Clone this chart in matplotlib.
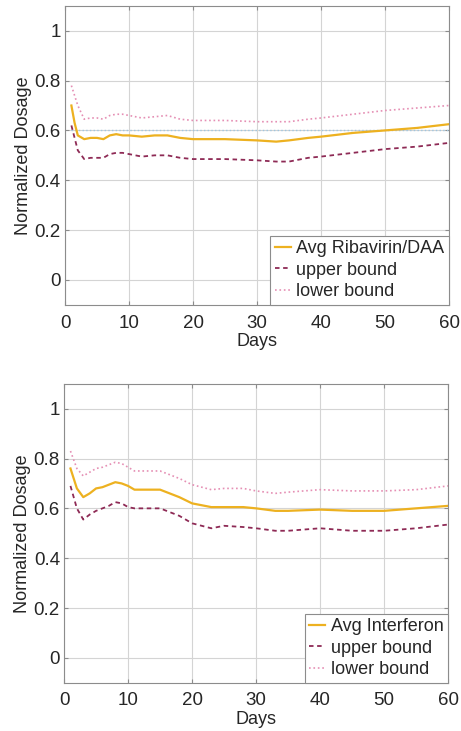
import numpy as np
import matplotlib
matplotlib.use('Agg')
import matplotlib.pyplot as plt

plt.rcParams['font.family'] = ['Liberation Sans', 'DejaVu Sans']

# top panel: Ribavirin/DAA
days_r = [1, 1.5, 2, 3, 4, 5, 6, 7, 8, 9, 10, 12, 14, 16, 18, 20, 25, 30, 33, 35, 38, 40, 45, 50, 55, 60]
avg_r = [0.70, 0.63, 0.58, 0.565, 0.57, 0.57, 0.565, 0.58, 0.585, 0.58, 0.58, 0.575, 0.58, 0.58, 0.57, 0.565, 0.565, 0.56, 0.555, 0.56, 0.57, 0.575, 0.59, 0.60, 0.61, 0.625]
upper_r = [0.62, 0.57, 0.52, 0.485, 0.49, 0.49, 0.49, 0.505, 0.51, 0.51, 0.505, 0.495, 0.50, 0.50, 0.49, 0.485, 0.485, 0.48, 0.475, 0.475, 0.49, 0.495, 0.51, 0.525, 0.535, 0.55]
lower_r = [0.78, 0.74, 0.70, 0.645, 0.65, 0.65, 0.645, 0.66, 0.665, 0.665, 0.66, 0.65, 0.655, 0.66, 0.645, 0.64, 0.64, 0.635, 0.635, 0.635, 0.645, 0.65, 0.665, 0.68, 0.69, 0.70]
ref_r = [0.6, 0.6]

# bottom panel: Interferon
days_i = [1, 2, 3, 4, 5, 6, 7, 8, 9, 10, 11, 13, 15, 18, 20, 23, 25, 28, 30, 33, 35, 40, 45, 50, 55, 60]
avg_i = [0.76, 0.68, 0.645, 0.66, 0.68, 0.685, 0.695, 0.705, 0.70, 0.69, 0.675, 0.675, 0.675, 0.645, 0.62, 0.605, 0.605, 0.605, 0.60, 0.59, 0.59, 0.595, 0.59, 0.59, 0.60, 0.61]
upper_i = [0.69, 0.60, 0.555, 0.575, 0.59, 0.60, 0.61, 0.625, 0.62, 0.605, 0.60, 0.60, 0.60, 0.57, 0.54, 0.52, 0.53, 0.525, 0.52, 0.51, 0.51, 0.52, 0.51, 0.51, 0.52, 0.535]
lower_i = [0.83, 0.76, 0.73, 0.745, 0.76, 0.765, 0.775, 0.785, 0.78, 0.765, 0.75, 0.75, 0.75, 0.72, 0.695, 0.675, 0.68, 0.68, 0.67, 0.66, 0.665, 0.675, 0.67, 0.67, 0.675, 0.69]

c_avg = '#EDB120'
c_up = '#8E2A55'
c_lo = '#E58FB4'
txt = '#262626'

fig = plt.figure(figsize=(4.61, 7.31), dpi=100)
ax1 = fig.add_axes([0.141, 0.583, 0.833, 0.409])
ax2 = fig.add_axes([0.139, 0.066, 0.833, 0.409])

def style(ax):
    ax.set_xlim(0, 60)
    ax.set_ylim(-0.1, 1.1)
    ax.set_xticks([0, 10, 20, 30, 40, 50, 60])
    ax.set_yticks([0, 0.2, 0.4, 0.6, 0.8, 1])
    ax.set_yticklabels(['0', '0.2', '0.4', '0.6', '0.8', '1'])
    ax.grid(True, color='#d4d4d4', linewidth=0.8)
    ax.set_axisbelow(True)
    for s in ax.spines.values():
        s.set_color('#8c8c8c')
        s.set_linewidth(0.8)
    ax.tick_params(direction='in', length=3, colors='#8c8c8c', labelcolor=txt,
                   labelsize=13.5, top=True, right=True)
    ax.tick_params(axis='x', pad=7)
    ax.tick_params(axis='y', pad=3)
    ax.set_xlabel('Days', fontsize=13, color=txt, labelpad=1)
    ax.set_ylabel('Normalized Dosage', fontsize=13, color=txt, labelpad=2)

def legend(ax):
    lg = ax.legend(loc='lower right', fontsize=13, handlelength=0.9,
                   handletextpad=0.3, labelspacing=0.25, borderpad=0.25,
                   borderaxespad=0.0, fancybox=False, framealpha=1)
    lg.get_frame().set_edgecolor('#8c8c8c')
    lg.get_frame().set_linewidth(0.8)
    for t in lg.get_texts():
        t.set_color(txt)

ax1.plot([1, 60], ref_r, ':', color='#9fc6e0', linewidth=1.0)
ax1.plot(days_r, avg_r, '-', color=c_avg, linewidth=1.6, label='Avg Ribavirin/DAA')
ax1.plot(days_r, upper_r, '--', dashes=(2.5, 2), color=c_up, linewidth=1.3, label='upper bound')
ax1.plot(days_r, lower_r, ':', color=c_lo, linewidth=1.2, label='lower bound')
style(ax1)
legend(ax1)

ax2.plot(days_i, avg_i, '-', color=c_avg, linewidth=1.6, label='Avg Interferon')
ax2.plot(days_i, upper_i, '--', dashes=(2.5, 2), color=c_up, linewidth=1.3, label='upper bound')
ax2.plot(days_i, lower_i, ':', color=c_lo, linewidth=1.2, label='lower bound')
style(ax2)
legend(ax2)

fig.savefig('out.png', dpi=100)
